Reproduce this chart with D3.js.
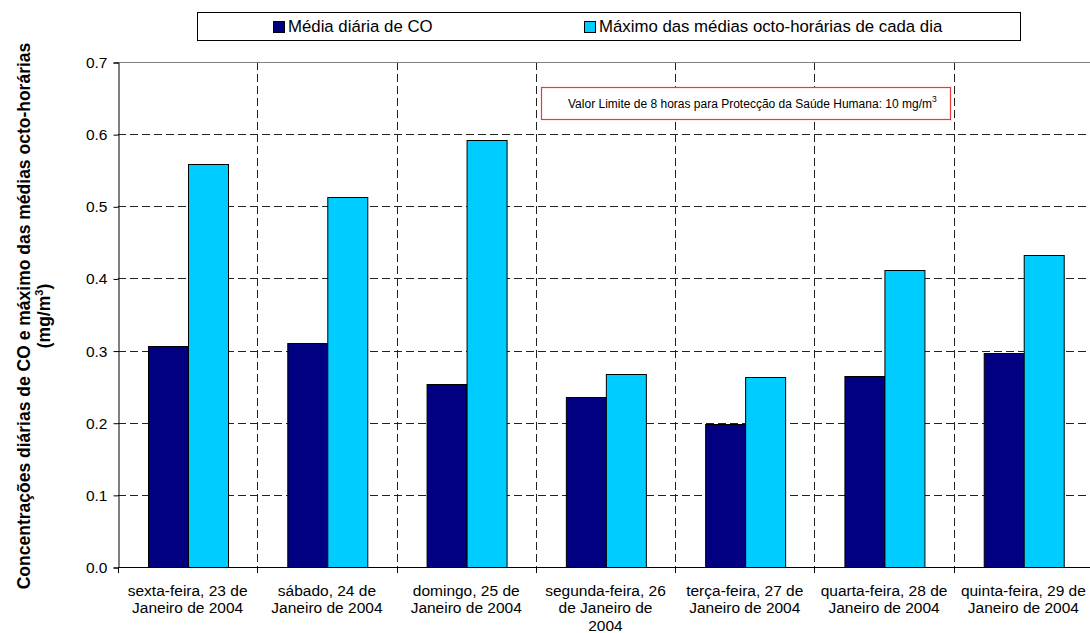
<!DOCTYPE html>
<html>
<head>
<meta charset="utf-8">
<script src="https://cdn.jsdelivr.net/npm/d3@7/dist/d3.min.js"></script>
<style>
  html, body { margin: 0; padding: 0; background: #fff; }
  svg { display: block; font-family: "Liberation Sans", Arial, sans-serif; }
</style>
</head>
<body>
<svg id="chart" width="1090" height="633"></svg>
<script>
// Daily CO concentrations, 23–29 January 2004 (mg/m3)
const categories = [
  ["sexta-feira, 23 de", "Janeiro de 2004"],
  ["sábado, 24 de", "Janeiro de 2004"],
  ["domingo, 25 de", "Janeiro de 2004"],
  ["segunda-feira, 26", "de Janeiro de", "2004"],
  ["terça-feira, 27 de", "Janeiro de 2004"],
  ["quarta-feira, 28 de", "Janeiro de 2004"],
  ["quinta-feira, 29 de", "Janeiro de 2004"]
];
const seriesNames = ["Média diária de CO", "Máximo das médias octo-horárias de cada dia"];
const dailyMean = [0.306, 0.310, 0.253, 0.236, 0.198, 0.265, 0.296];
const maxEightHour = [0.559, 0.513, 0.592, 0.268, 0.263, 0.412, 0.433];
const yTicks = [0.0, 0.1, 0.2, 0.3, 0.4, 0.5, 0.6, 0.7];
const colors = ["#000080", "#00CCFF"];

const svg = d3.select("#chart");
const plot = { left: 118, top: 62, bottom: 567, right: 1093 };

const catKeys = categories.map((c, i) => i);
const x0 = d3.scaleBand().domain(catKeys).range([plot.left, plot.right]).padding(0);
const bw = x0.bandwidth();
const x1 = d3.scaleBand().domain([0, 1]).range([bw * 0.2129, bw * 0.7871]).padding(0);
const y = d3.scaleLinear().domain([0, 0.7]).range([plot.bottom, plot.top]);

// horizontal dashed gridlines
svg.append("g")
  .selectAll("line")
  .data(yTicks.filter(v => v > 0 && v < 0.7))
  .join("line")
  .attr("x1", plot.left).attr("x2", plot.right)
  .attr("y1", d => Math.round(y(d)) + 0.5).attr("y2", d => Math.round(y(d)) + 0.5)
  .attr("stroke", "#222").attr("stroke-width", 1).attr("stroke-dasharray", "8,4");

// vertical dashed gridlines at category boundaries
svg.append("g")
  .selectAll("line")
  .data(catKeys.slice(1))
  .join("line")
  .attr("x1", d => Math.round(x0(d)) + 0.5).attr("x2", d => Math.round(x0(d)) + 0.5)
  .attr("y1", plot.top).attr("y2", plot.bottom)
  .attr("stroke", "#222").attr("stroke-width", 1).attr("stroke-dasharray", "8,4");

// plot area top border
svg.append("line")
  .attr("x1", plot.left).attr("x2", plot.right)
  .attr("y1", Math.round(y(0.7)) + 0.5).attr("y2", Math.round(y(0.7)) + 0.5)
  .attr("stroke", "#808080").attr("stroke-width", 1);

// bars
const rows = catKeys.map(i => ({ i, vals: [dailyMean[i], maxEightHour[i]] }));
svg.append("g")
  .selectAll("g")
  .data(rows)
  .join("g")
  .attr("transform", d => `translate(${x0(d.i)},0)`)
  .selectAll("rect")
  .data(d => d.vals.map((v, s) => ({ v, s })))
  .join("rect")
  .attr("x", d => Math.round(x1(d.s)) + 0.5)
  .attr("width", Math.round(x1.bandwidth()))
  .attr("y", d => Math.round(y(d.v)) + 0.5)
  .attr("height", d => Math.round(y(0)) - Math.round(y(d.v)))
  .attr("fill", d => colors[d.s])
  .attr("stroke", "#000").attr("stroke-width", 1);

// y axis
const yAxis = d3.axisLeft(y).tickValues(yTicks).tickFormat(d3.format(".1f")).tickSize(5).tickPadding(6);
const gy = svg.append("g").attr("transform", `translate(${plot.left + 0.5},0.5)`).call(yAxis);
gy.select(".domain").attr("stroke", "#000");
gy.selectAll(".tick line").attr("stroke", "#000");
gy.selectAll(".tick text").attr("font-size", 15.5).attr("font-family", "Liberation Sans, Arial, sans-serif").attr("fill", "#000");

// x axis baseline and boundary ticks
svg.append("line")
  .attr("x1", plot.left).attr("x2", plot.right)
  .attr("y1", Math.round(y(0)) + 0.5).attr("y2", Math.round(y(0)) + 0.5)
  .attr("stroke", "#000");
svg.append("g")
  .selectAll("line")
  .data(catKeys.concat([categories.length]))
  .join("line")
  .attr("x1", d => Math.round(plot.left + d * bw) + 0.5).attr("x2", d => Math.round(plot.left + d * bw) + 0.5)
  .attr("y1", Math.round(y(0))).attr("y2", Math.round(y(0)) + 6)
  .attr("stroke", "#000");

// category labels
svg.append("g")
  .selectAll("text")
  .data(catKeys)
  .join("text")
  .attr("x", d => x0(d) + bw / 2)
  .attr("y", 596)
  .attr("text-anchor", "middle")
  .attr("font-size", 15.5)
  .selectAll("tspan")
  .data(d => categories[d])
  .join("tspan")
  .attr("x", function () { return d3.select(this.parentNode).attr("x"); })
  .attr("dy", (d, k) => k === 0 ? 0 : 17.3)
  .text(d => d);

// y axis title
const yt = svg.append("text")
  .attr("transform", "translate(0,316) rotate(-90)")
  .attr("text-anchor", "middle")
  .attr("font-weight", "bold")
  .attr("font-size", 17.5);
yt.append("tspan").attr("x", 0).attr("y", 30).text("Concentrações diárias de CO e máximo das médias octo-horárias");
yt.append("tspan").attr("x", 0).attr("y", 50).text("(mg/m");
yt.append("tspan").attr("font-size", 11).attr("dy", -7).text("3");
yt.append("tspan").attr("dy", 7).text(")");

// legend
const lg = svg.append("g");
lg.append("rect").attr("x", 197.5).attr("y", 12.5).attr("width", 823).attr("height", 28)
  .attr("fill", "#fff").attr("stroke", "#000");
const legendX = [273, 584];
seriesNames.forEach((name, s) => {
  lg.append("rect").attr("x", legendX[s] + 0.5).attr("y", 21.5).attr("width", 11).attr("height", 11)
    .attr("fill", colors[s]).attr("stroke", "#000");
  lg.append("text").attr("x", legendX[s] + 15).attr("y", 32).attr("font-size", 16.8).text(name);
});

// limit-value note
const note = svg.append("g");
note.append("rect").attr("x", 541.5).attr("y", 87.5).attr("width", 409).attr("height", 32)
  .attr("fill", "#fff").attr("stroke", "#e83a3a").attr("stroke-width", 1.2);
const nt = note.append("text").attr("x", 568).attr("y", 108).attr("font-size", 12);
nt.append("tspan").text("Valor Limite de 8 horas para Protecção da Saúde Humana: 10 mg/m");
nt.append("tspan").attr("font-size", 8.5).attr("dy", -6).text("3");
</script>
</body>
</html>
